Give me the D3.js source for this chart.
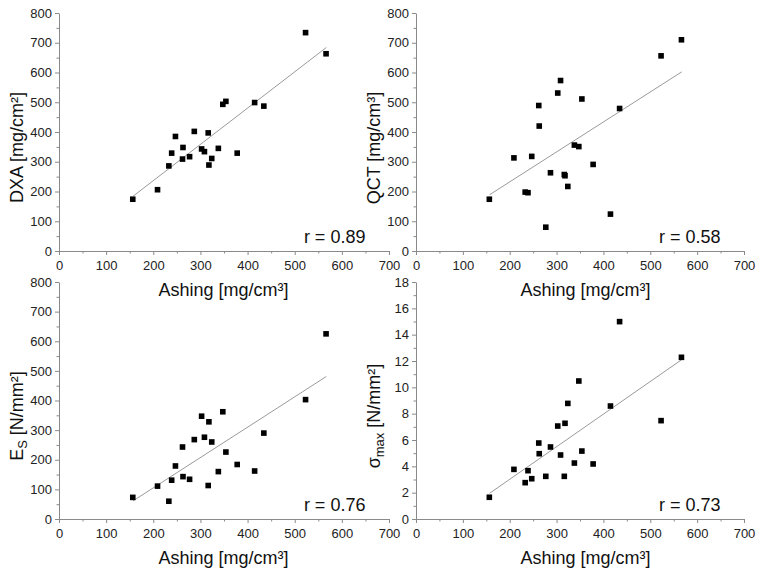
<!DOCTYPE html>
<html>
<head>
<meta charset="utf-8">
<script src="https://cdn.jsdelivr.net/npm/d3@7"></script>
<style>
  html, body { margin: 0; padding: 0; background: #fff; }
  svg { display: block; font-family: "Liberation Sans", Arial, sans-serif; }
</style>
</head>
<body>
<svg id="chart" width="771" height="577"></svg>
<script>
// ---- data ----
const ashing = [156.5, 209, 233, 239, 247, 262, 263, 277, 287, 302.5, 308.5, 316.5, 318, 324, 338, 347.5, 354, 378, 415, 434.5, 523, 566.5];
const dxa    = [174, 206, 286, 329, 385, 309, 348, 317, 402, 343, 334, 397, 289, 311, 345, 493, 503, 329, 499, 487, 734, 663];
const qct    = [174, 313, 198, 196, 318, 489, 420, 80, 263, 531, 573, 257, 253, 217, 356, 351, 511, 291, 124, 479, 656, 710];
const es     = [73, 111, 60, 131, 179, 243, 143, 134, 268, 347, 276, 113, 328, 260, 160, 362, 226, 184, 162, 290, 403, 625];
const sigma  = [1.65, 3.77, 2.76, 3.67, 3.06, 5.77, 4.96, 3.24, 5.47, 7.06, 4.86, 3.24, 7.27, 8.78, 4.25, 10.48, 5.16, 4.18, 8.58, 14.99, 7.47, 12.28];

const fitX     = [157, 567];
const dxaFit   = [184, 684];
const qctFit   = [189, 602];
const esFit    = [61, 481];
const sigmaFit = [1.95, 12.1];

const xTicks   = [0, 100, 200, 300, 400, 500, 600, 700];
const yTicks   = [0, 100, 200, 300, 400, 500, 600, 700, 800];
const sTicks   = [0, 2, 4, 6, 8, 10, 12, 14, 16, 18];
const rLabels  = ["r = 0.89", "r = 0.58", "r = 0.76", "r = 0.73"];

// ---- layout ----
const svg = d3.select("#chart");
const panels = [
  { ys: dxa,   fit: dxaFit,   yMax: 800, yT: yTicks, yStep: 50, x0: 59,  x1: 389, yTop: 13,  yBot: 251, title: [["DXA [mg/cm²]", null]], tx: 22.5,  ty: 147.5, ashX: 223.5, r: rLabels[0] },
  { ys: qct,   fit: qctFit,   yMax: 800, yT: yTicks, yStep: 50, x0: 416, x1: 744, yTop: 13,  yBot: 251, title: [["QCT [mg/cm³]", null]], tx: 379.5, ty: 148,   ashX: 585.5, r: rLabels[1] },
  { ys: es,    fit: esFit,    yMax: 800, yT: yTicks, yStep: 50, x0: 59,  x1: 389, yTop: 282, yBot: 519, title: [["E", null], ["S", "sub"], [" [N/mm²]", null]], tx: 22.5, ty: 416, ashX: 223.5, r: rLabels[2] },
  { ys: sigma, fit: sigmaFit, yMax: 18,  yT: sTicks, yStep: 1,  x0: 416, x1: 744, yTop: 282, yBot: 519, title: [["σ", null], ["max", "sub"], [" [N/mm²]", null]], tx: 380, ty: 416, ashX: 585.5, r: rLabels[3] }
];

const axisColor = "#8a8a8a";
const textColor = "#222";

panels.forEach(p => {
  const x = d3.scaleLinear().domain([0, 700]).range([p.x0, p.x1]);
  const y = d3.scaleLinear().domain([0, p.yMax]).range([p.yBot, p.yTop]);
  const g = svg.append("g");

  // minor ticks
  const xMinor = d3.range(50, 700, 100);
  const yMinor = d3.range(p.yStep, p.yMax, p.yStep * 2);
  g.append("g").attr("transform", `translate(0,${p.yBot})`)
    .call(d3.axisBottom(x).tickValues(xMinor).tickSize(2.5).tickFormat(""))
    .call(a => a.select(".domain").remove());
  g.append("g").attr("transform", `translate(${p.x0},0)`)
    .call(d3.axisLeft(y).tickValues(yMinor).tickSize(2.5).tickFormat(""))
    .call(a => a.select(".domain").remove());

  // major axes
  const xa = g.append("g").attr("transform", `translate(0,${p.yBot})`)
    .call(d3.axisBottom(x).tickValues(xTicks).tickSize(4).tickSizeOuter(0).tickPadding(6).tickFormat(d3.format("d")));
  const ya = g.append("g").attr("transform", `translate(${p.x0},0)`)
    .call(d3.axisLeft(y).tickValues(p.yT).tickSize(4).tickSizeOuter(0).tickPadding(3).tickFormat(d3.format("d")));

  g.selectAll(".domain, .tick line").attr("stroke", axisColor);
  [xa, ya].forEach(a => a.selectAll("text")
    .attr("fill", textColor).style("font-size", "13px")
    .style("font-family", '"Liberation Sans", Arial, sans-serif'));

  // regression line
  g.append("line")
    .attr("x1", x(fitX[0])).attr("y1", y(p.fit[0]))
    .attr("x2", x(fitX[1])).attr("y2", y(p.fit[1]))
    .attr("stroke", "#9a9a9a").attr("stroke-width", 1);

  // points
  const s = 5.6;
  g.selectAll("rect.pt").data(ashing.map((a, i) => [a, p.ys[i]])).enter()
    .append("rect").attr("class", "pt")
    .attr("x", d => x(d[0]) - s / 2).attr("y", d => y(d[1]) - s / 2)
    .attr("width", s).attr("height", s).attr("fill", "#000");

  // r label
  g.append("text").attr("x", x(650)).attr("y", p.yBot - 8.5)
    .attr("text-anchor", "end").attr("fill", "#111")
    .style("font-size", "18px").text(p.r);

  // x title
  g.append("text").attr("x", p.ashX).attr("y", p.yBot + 45)
    .attr("text-anchor", "middle").attr("fill", "#111")
    .style("font-size", "18px").text("Ashing [mg/cm³]");

  // y title
  const t = g.append("text")
    .attr("transform", `translate(${p.tx},${p.ty}) rotate(-90)`)
    .attr("text-anchor", "middle").attr("fill", "#111")
    .style("font-size", "18px");
  p.title.forEach(([txt, kind], i) => {
    const ts = t.append("tspan").text(txt);
    if (kind === "sub") {
      ts.style("font-size", "13px").attr("dy", "4");
    } else if (i > 0 && p.title[i - 1][1] === "sub") {
      ts.attr("dy", "-4");
    }
  });
});
</script>
</body>
</html>
